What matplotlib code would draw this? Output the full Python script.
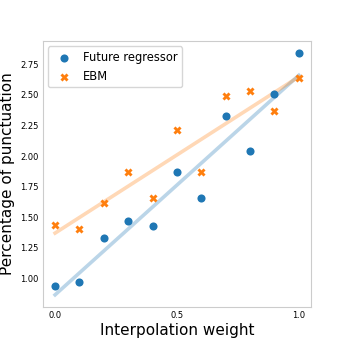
import numpy as np
import matplotlib
matplotlib.use("Agg")
import matplotlib.pyplot as plt

weights = [0.0, 0.1, 0.2, 0.3, 0.4, 0.5, 0.6, 0.7, 0.8, 0.9, 1.0]
future_regressor = [0.94, 0.97, 1.33, 1.47, 1.43, 1.87, 1.66, 2.33, 2.04, 2.51, 2.84]
ebm = [1.44, 1.40, 1.62, 1.87, 1.66, 2.21, 1.87, 2.49, 2.53, 2.37, 2.64]

blue = "#1f77b4"
orange = "#ff7f0e"

fig = plt.figure(figsize=(3.46, 3.46), dpi=100)
ax = fig.add_axes([0.124, 0.113, 0.775, 0.768])

x = np.array(weights)
for ys, color, marker, label in [(future_regressor, blue, "o", "Future regressor"),
                                 (ebm, orange, "X", "EBM")]:
    ax.scatter(x, ys, color=color, marker=marker, s=34, linewidths=0, label=label, zorder=3)
    # least-squares fit line, drawn faint behind the points
    slope, intercept = np.polyfit(x, ys, 1)
    ax.plot([x[0], x[-1]], [intercept + slope * x[0], intercept + slope * x[-1]],
            color=color, alpha=0.3, linewidth=2.6, zorder=2)

ax.set_xticks([0.0, 0.5, 1.0])
ax.set_yticks([1.0, 1.25, 1.5, 1.75, 2.0, 2.25, 2.5, 2.75])
ax.tick_params(length=0, labelsize=6, pad=3)
for s in ax.spines.values():
    s.set_color("#cccccc")
ax.set_xlabel("Interpolation weight", fontsize=11, labelpad=2)
ax.set_ylabel("Percentage of punctuation", fontsize=11, labelpad=4)
ax.legend(loc="upper left", fontsize=8.3, handletextpad=0.6, borderaxespad=0.45)

fig.savefig("out.png", dpi=100)
